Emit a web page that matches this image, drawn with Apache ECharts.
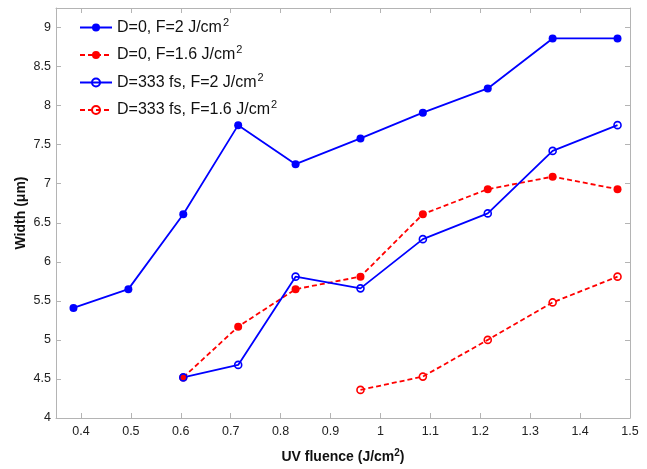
<!DOCTYPE html>
<html>
<head>
<meta charset="utf-8">
<script src="https://cdn.jsdelivr.net/npm/echarts@6/dist/echarts.min.js"></script>
<style>
html,body{margin:0;padding:0;background:#fff;}
#chart{width:647px;height:469px;}
</style>
</head>
<body>
<div id="chart"></div>
<script>
// Data
const seriesNames = ['D=0, F=2 J/cm2', 'D=0, F=1.6 J/cm2', 'D=333 fs, F=2 J/cm2', 'D=333 fs, F=1.6 J/cm2'];
const xD0F2 = [0.385, 0.495, 0.605, 0.715, 0.83, 0.96, 1.085, 1.215, 1.345, 1.475];
const yD0F2 = [5.41, 5.65, 6.61, 7.75, 7.25, 7.58, 7.91, 8.22, 8.86, 8.86];
const xD0F16 = [0.605, 0.715, 0.83, 0.96, 1.085, 1.215, 1.345, 1.475];
const yD0F16 = [4.52, 5.17, 5.65, 5.81, 6.61, 6.93, 7.09, 6.93];
const xD333F2 = [0.605, 0.715, 0.83, 0.96, 1.085, 1.215, 1.345, 1.475];
const yD333F2 = [4.52, 4.68, 5.81, 5.66, 6.29, 6.62, 7.42, 7.75];
const xD333F16 = [0.96, 1.085, 1.215, 1.345, 1.475];
const yD333F16 = [4.36, 4.53, 5.00, 5.48, 5.81];
const xTicks = [0.4, 0.5, 0.6, 0.7, 0.8, 0.9, 1.0, 1.1, 1.2, 1.3, 1.4, 1.5];
const yTicks = [4, 4.5, 5, 5.5, 6, 6.5, 7, 7.5, 8, 8.5, 9];

const pair = (xs, ys) => xs.map((x, i) => [x, ys[i]]);
const FONT = '"Liberation Sans", Arial, sans-serif';
const AXC = '#b4b4b4';

const chart = echarts.init(document.getElementById('chart'), null, {renderer: 'canvas'});

const baseX = {
  type: 'value', min: 0.35, max: 1.5,
  axisLine: {show: true, lineStyle: {color: AXC, width: 1}},
  axisTick: {show: true, inside: true, length: 5, customValues: xTicks, lineStyle: {color: AXC}},
  splitLine: {show: false}
};
const baseY = {
  type: 'value', min: 4, max: 9.25,
  axisLine: {show: true, lineStyle: {color: AXC, width: 1}},
  axisTick: {show: true, inside: true, length: 5, customValues: yTicks, lineStyle: {color: AXC}},
  splitLine: {show: false}
};

function richName(n) {
  // trailing "2" is a superscript
  return '{a|' + n.slice(0, -1) + '}{s|2}';
}

chart.setOption({
  animation: false,
  backgroundColor: '#fff',
  grid: {left: 56, right: 17, top: 8, bottom: 44, containLabel: false},
  legend: {
    orient: 'vertical', left: 74, top: 12, itemWidth: 32, itemHeight: 10, itemGap: 9,
    data: seriesNames,
    formatter: richName,
    textStyle: {
      fontFamily: FONT, color: '#111',
      rich: {
        a: {fontSize: 16, fontFamily: FONT, color: '#111', lineHeight: 21},
        s: {fontSize: 11, fontFamily: FONT, color: '#111', verticalAlign: 'top', lineHeight: 21, padding: [0, 0, 0, 1]}
      }
    }
  },
  xAxis: [
    Object.assign({}, baseX, {
      position: 'bottom',
      axisLabel: {show: true, customValues: xTicks, margin: 7, fontSize: 12.5, fontFamily: FONT, color: '#222'},
      name: '{a|UV fluence (J/cm}{s|2}{a|)}', nameLocation: 'middle', nameGap: 30, nameMoveOverlap: false,
      nameTextStyle: {
        rich: {
          a: {fontSize: 14, fontWeight: 'bold', fontFamily: FONT, color: '#111', lineHeight: 18},
          s: {fontSize: 10, fontWeight: 'bold', fontFamily: FONT, color: '#111', verticalAlign: 'top', lineHeight: 18}
        }
      }
    }),
    Object.assign({}, baseX, {position: 'top', axisLabel: {show: false}})
  ],
  yAxis: [
    Object.assign({}, baseY, {
      position: 'left',
      axisLabel: {show: true, customValues: yTicks, margin: 5, fontSize: 12.5, fontFamily: FONT, color: '#222'},
      name: 'Width (μm)', nameLocation: 'middle', nameGap: 28, nameMoveOverlap: false,
      nameTextStyle: {fontSize: 14, fontWeight: 'bold', fontFamily: FONT, color: '#111'}
    }),
    Object.assign({}, baseY, {position: 'right', axisLabel: {show: false}})
  ],
  series: [
    {
      name: seriesNames[0], type: 'line', data: pair(xD0F2, yD0F2),
      symbol: 'circle', symbolSize: 8,
      lineStyle: {color: '#0000ff', width: 1.8, type: 'solid'},
      itemStyle: {color: '#0000ff', borderColor: '#0000ff', borderWidth: 0}
    },
    {
      name: seriesNames[1], type: 'line', data: pair(xD0F16, yD0F16),
      symbol: 'circle', symbolSize: 8,
      lineStyle: {color: '#ff0000', width: 1.8, type: [5, 3]},
      itemStyle: {color: '#ff0000', borderColor: '#ff0000', borderWidth: 0}
    },
    {
      name: seriesNames[2], type: 'line', data: pair(xD333F2, yD333F2),
      symbol: 'circle', symbolSize: 7,
      lineStyle: {color: '#0000ff', width: 1.8, type: 'solid'},
      itemStyle: {color: 'rgba(0,0,0,0)', borderColor: '#0000ff', borderWidth: 1.6}
    },
    {
      name: seriesNames[3], type: 'line', data: pair(xD333F16, yD333F16),
      symbol: 'circle', symbolSize: 7,
      lineStyle: {color: '#ff0000', width: 1.8, type: [5, 3]},
      itemStyle: {color: 'rgba(0,0,0,0)', borderColor: '#ff0000', borderWidth: 1.6}
    }
  ]
});
</script>
</body>
</html>
